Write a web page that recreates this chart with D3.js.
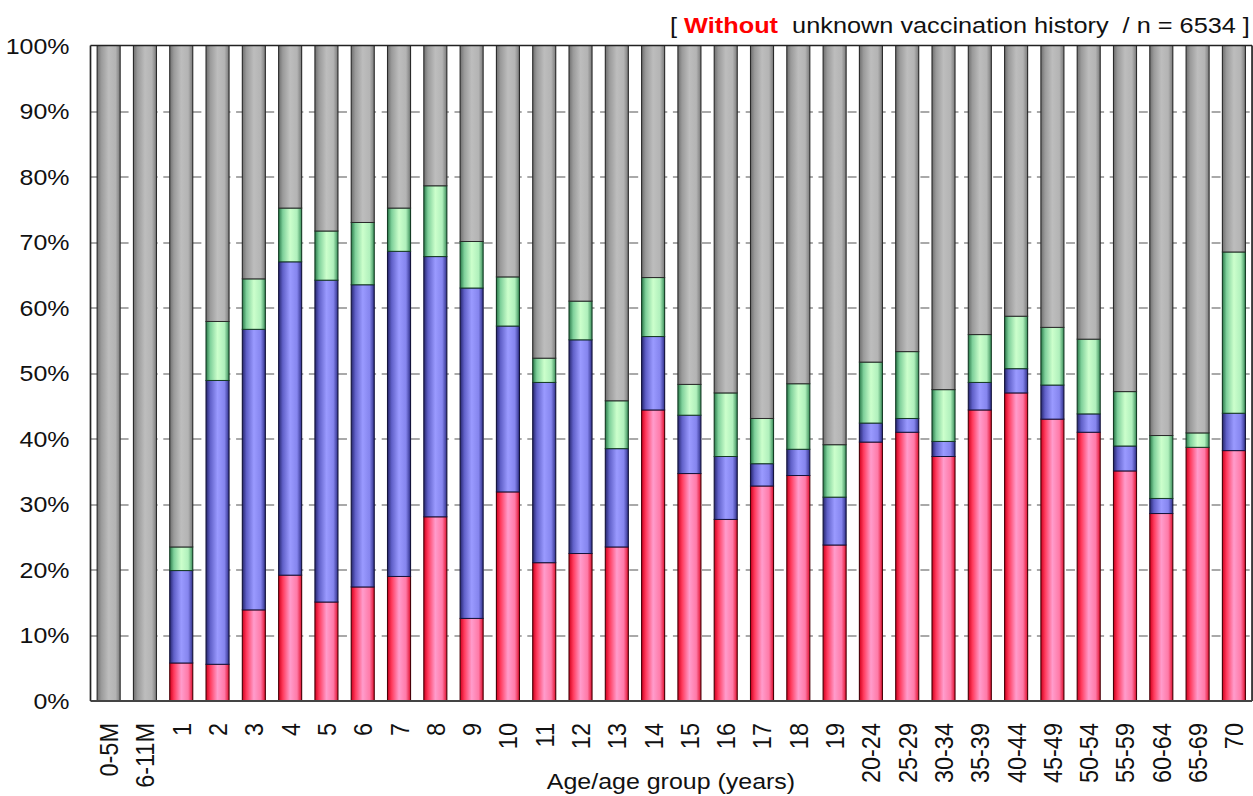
<!DOCTYPE html>
<html>
<head>
<meta charset="utf-8">
<script src="https://cdn.jsdelivr.net/npm/d3@7"></script>
<style>
  body { margin: 0; background: #fff; }
  text { font-family: "Liberation Sans", Arial, sans-serif; fill: #111; }
</style>
</head>
<body>
<div id="chart"></div>
<script>
// Data (percent of each age group) //
var categories = ["0-5M", "6-11M", "1", "2", "3", "4", "5", "6", "7", "8", "9", "10",
  "11", "12", "13", "14", "15", "16", "17", "18", "19", "20-24", "25-29", "30-34",
  "35-39", "40-44", "45-49", "50-54", "55-59", "60-64", "65-69", "70"];

var pinkVals = [0, 0, 5.8, 5.6, 13.9, 19.2, 15.1, 17.4, 19.0, 28.1, 12.6, 31.9,
  21.1, 22.5, 23.5, 44.4, 34.7, 27.7, 32.8, 34.4, 23.8, 39.5, 41.0, 37.3,
  44.4, 47.0, 43.0, 41.0, 35.1, 28.6, 38.7, 38.2];

var blueVals = [0, 0, 14.1, 43.3, 42.8, 47.8, 49.1, 46.1, 49.6, 39.7, 50.4, 25.3,
  27.5, 32.6, 15.0, 11.2, 8.9, 9.6, 3.4, 4.0, 7.3, 2.9, 2.1, 2.3,
  4.2, 3.7, 5.2, 2.8, 3.8, 2.3, 0, 5.7];

var greenVals = [0, 0, 3.6, 9.0, 7.7, 8.2, 7.5, 9.5, 6.6, 10.8, 7.1, 7.5,
  3.7, 5.9, 7.3, 9.0, 4.7, 9.7, 6.9, 10.0, 8.0, 9.3, 10.2, 7.9,
  7.3, 8.0, 8.8, 11.4, 8.3, 9.6, 2.2, 24.6];

var greyVals = [100, 100, 76.5, 42.1, 35.6, 24.8, 28.3, 27.0, 24.8, 21.4, 29.9, 35.3,
  47.7, 39.0, 54.2, 35.4, 51.7, 53.0, 56.9, 51.6, 60.9, 48.3, 46.7, 52.5,
  44.1, 41.3, 43.0, 44.8, 52.8, 59.5, 59.1, 31.5];

var yTicks = [0, 10, 20, 30, 40, 50, 60, 70, 80, 90, 100];

var keys = ["pink", "blue", "green", "grey"];

// Sizes //
var svgWidth = 1253;
var svgHeight = 796;
var stretch = 1.12;   // the original is drawn a little wide

var margin = { top: 45.5, left: 80.8 };
var width = 1117.9 - margin.left;
var height = 701 - margin.top;

var svg = d3.select("#chart")
  .append("svg")
  .attr("width", svgWidth)
  .attr("height", svgHeight);

var defs = svg.append("defs");

var gradients = {
  grey:  ["#6f6f6f", "#9a9a9a", "#bdbdbd", "#b4b4b4", "#7a7a7a"],
  pink:  ["#d0001e", "#ff3a5c", "#ff9ccc", "#ff7aa8", "#e0102e"],
  blue:  ["#26266e", "#6060c8", "#9a9aff", "#8585ee", "#30308a"],
  green: ["#2a7a4a", "#7ed09a", "#ccffcc", "#b0f0bc", "#3a8e5a"]
};
var edges = { grey: "#2a2a2a", pink: "#4a0008", blue: "#14143c", green: "#143c24" };
var stopOffsets = [0, 0.18, 0.5, 0.8, 1];

keys.forEach(function(k) {
  var g = defs.append("linearGradient")
    .attr("id", "grad-" + k)
    .attr("x1", 0).attr("x2", 1).attr("y1", 0).attr("y2", 0);
  gradients[k].forEach(function(c, i) {
    g.append("stop").attr("offset", stopOffsets[i]).attr("stop-color", c);
  });
});

var root = svg.append("g")
  .attr("transform", `scale(${stretch}, 1)`);

var chartGroup = root.append("g")
  .attr("transform", `translate(${margin.left}, ${margin.top})`);

// Build table //
var table = categories.map(function(c, i) {
  return { cat: c, pink: pinkVals[i], blue: blueVals[i], green: greenVals[i], grey: greyVals[i] };
});
var stacked = d3.stack().keys(keys)(table);

// Scales //
var xScale = d3.scaleBand()
  .domain(categories)
  .range([0, width])
  .paddingInner(0.366)
  .paddingOuter(0.183);

var yScale = d3.scaleLinear()
  .domain([0, 100])
  .range([height, 0]);

// Grid lines //
chartGroup.append("g")
  .selectAll("line")
  .data(yTicks.filter(d => d > 0 && d < 100))
  .enter()
  .append("line")
  .attr("x1", 0)
  .attr("x2", width)
  .attr("y1", d => Math.round(yScale(d)) + 0.5)
  .attr("y2", d => Math.round(yScale(d)) + 0.5)
  .attr("stroke", "#555")
  .attr("stroke-dasharray", "8,5");

// Bars //
var layers = chartGroup.selectAll(".layer")
  .data(stacked)
  .enter()
  .append("g")
  .attr("class", "layer")
  .attr("fill", d => "url(#grad-" + d.key + ")")
  .attr("stroke", d => edges[d.key]);

layers.selectAll("rect")
  .data(d => d.filter(s => s[1] - s[0] > 0))
  .enter()
  .append("rect")
  .attr("x", d => xScale(d.data.cat))
  .attr("width", xScale.bandwidth())
  .attr("y", d => yScale(d[1]))
  .attr("height", d => yScale(d[0]) - yScale(d[1]))
  .attr("stroke-width", 1);

// Frame and axes //
chartGroup.append("line")
  .attr("x1", 0).attr("x2", width)
  .attr("y1", 0).attr("y2", 0)
  .attr("stroke", "#222").attr("stroke-width", 1.5);

chartGroup.append("line")
  .attr("x1", width).attr("x2", width)
  .attr("y1", 0).attr("y2", height)
  .attr("stroke", "#222").attr("stroke-width", 1.5);

chartGroup.append("line")
  .attr("x1", 0).attr("x2", 0)
  .attr("y1", 0).attr("y2", height)
  .attr("stroke", "#222").attr("stroke-width", 1.5);

chartGroup.append("line")
  .attr("x1", 0).attr("x2", width)
  .attr("y1", height).attr("y2", height)
  .attr("stroke", "#444").attr("stroke-width", 2);

// Y labels //
chartGroup.append("g")
  .selectAll("text")
  .data(yTicks)
  .enter()
  .append("text")
  .attr("x", 62.1 - margin.left)
  .attr("y", d => yScale(d))
  .attr("dy", "0.36em")
  .attr("text-anchor", "end")
  .attr("font-size", "22.3px")
  .text(d => d + "%");

// X labels //
chartGroup.append("g")
  .selectAll("text")
  .data(categories)
  .enter()
  .append("text")
  .attr("transform", d => `translate(${xScale(d) + xScale.bandwidth() / 2}, ${height + 22}) rotate(-90)`)
  .attr("dy", "0.36em")
  .attr("text-anchor", "end")
  .attr("font-size", "23.5px")
  .text(d => d);

// Axis title //
root.append("text")
  .attr("x", 599.1)
  .attr("y", 789)
  .attr("text-anchor", "middle")
  .attr("font-size", "22.3px")
  .text("Age/age group (years)");

// Top note //
var note = root.append("text")
  .attr("x", 1116)
  .attr("y", 33)
  .attr("text-anchor", "end")
  .attr("font-size", "22.6px")
  .style("white-space", "pre");

note.append("tspan").text("[ ");
note.append("tspan").text("Without").attr("font-weight", "bold").style("fill", "#ff0000");
note.append("tspan").text("  unknown vaccination history  / n = 6534 ]");
</script>
</body>
</html>
